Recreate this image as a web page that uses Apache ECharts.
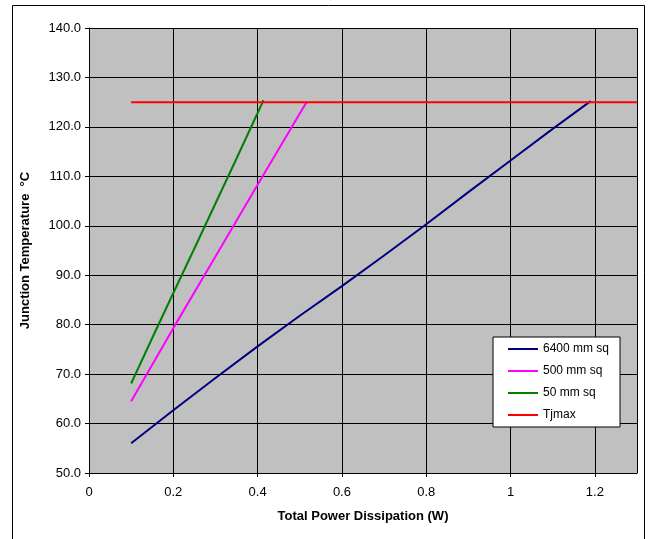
<!DOCTYPE html>
<html>
<head>
<meta charset="utf-8">
<script src="https://cdn.jsdelivr.net/npm/echarts@6/dist/echarts.min.js"></script>
<style>
html,body{margin:0;padding:0;background:#fff;}
#chart{width:649px;height:539px;}
</style>
</head>
<body>
<div id="chart"></div>
<script>
// ---- Data ----
const seriesNames = ['6400 mm sq', '500 mm sq', '50 mm sq', 'Tjmax'];

const x6400 = [0.1, 0.2, 0.3, 0.4, 0.5, 0.6, 0.7, 0.8, 0.9, 1.0, 1.1, 1.19];
const y6400 = [56.0, 62.7, 69.2, 75.6, 81.8, 87.8, 94.0, 100.3, 106.8, 113.2, 119.6, 125.2];

const x500 = [0.1, 0.2, 0.3, 0.4, 0.5, 0.516];
const y500 = [64.5, 79.3, 93.8, 108.3, 122.7, 125.0];

const x50 = [0.1, 0.15, 0.2, 0.25, 0.3, 0.35, 0.4, 0.414];
const y50 = [68.1, 77.3, 86.4, 95.4, 104.5, 113.6, 122.8, 125.4];

const xTj = [0.1, 1.3];
const yTj = [125, 125];

const xTickLabels = ['0', '0.2', '0.4', '0.6', '0.8', '1', '1.2'];
const yTickLabels = ['50.0', '60.0', '70.0', '80.0', '90.0', '100.0', '110.0', '120.0', '130.0', '140.0'];

const colors = ['#000080', '#FF00FF', '#008000', '#FF0000'];

function pairs(xs, ys) { return xs.map((x, i) => [x, ys[i]]); }

const chart = echarts.init(document.getElementById('chart'), null, {renderer: 'canvas'});
const font = '"Liberation Sans", Arial, sans-serif';

const option = {
  backgroundColor: '#ffffff',
  animation: false,
  textStyle: {fontFamily: font},
  graphic: [{
    type: 'rect',
    shape: {x: 12.5, y: 5.5, width: 632, height: 560},
    style: {fill: 'none', stroke: '#000', lineWidth: 1},
    silent: true,
    z: -1
  }],
  grid: {
    left: 89, top: 28, width: 548, height: 445,
    show: true, backgroundColor: '#C0C0C0', borderWidth: 0
  },
  legend: {
    orient: 'vertical',
    left: 493, top: 337,
    backgroundColor: '#ffffff',
    borderColor: '#000', borderWidth: 1,
    padding: [6, 11, 6, 15],
    itemWidth: 30, itemHeight: 10, itemGap: 10,
    icon: 'path://M0,4 L30,4 L30,6 L0,6 Z',
    textStyle: {fontFamily: font, fontSize: 12, color: '#000', lineHeight: 12},
    data: seriesNames.map((n, i) => ({name: n, itemStyle: {color: colors[i]}}))
  },
  xAxis: {
    type: 'value', min: 0, max: 1.3, interval: 0.2,
    name: 'Total Power Dissipation (W)',
    nameLocation: 'middle', nameGap: 37,
    nameTextStyle: {fontFamily: font, fontSize: 13, fontWeight: 'bold', color: '#000'},
    axisLine: {show: true, lineStyle: {color: '#000', width: 1}},
    axisTick: {show: true, inside: false, length: 4, lineStyle: {color: '#000'}},
    axisLabel: {
      fontFamily: font, fontSize: 13, color: '#000', margin: 13,
      showMaxLabel: false,
      formatter: function (v) {
        const idx = Math.round(v / 0.2);
        if (Math.abs(v - idx * 0.2) > 1e-6) return '';
        return xTickLabels[idx] !== undefined ? xTickLabels[idx] : '';
      }
    },
    splitLine: {show: true, lineStyle: {color: '#000', width: 1}}
  },
  yAxis: {
    type: 'value', min: 50, max: 140, interval: 10,
    name: 'Junction Temperature  °C',
    nameLocation: 'middle', nameGap: 57,
    nameTextStyle: {fontFamily: font, fontSize: 13, fontWeight: 'bold', color: '#000'},
    axisLine: {show: true, lineStyle: {color: '#000', width: 1}},
    axisTick: {show: true, inside: false, length: 4, lineStyle: {color: '#000'}},
    axisLabel: {
      fontFamily: font, fontSize: 13, color: '#000', margin: 8,
      formatter: function (v) {
        const idx = Math.round((v - 50) / 10);
        return yTickLabels[idx] !== undefined ? yTickLabels[idx] : '';
      }
    },
    splitLine: {show: true, lineStyle: {color: '#000', width: 1}}
  },
  series: [
    {name: seriesNames[0], type: 'line', data: pairs(x6400, y6400)},
    {name: seriesNames[1], type: 'line', data: pairs(x500, y500)},
    {name: seriesNames[2], type: 'line', data: pairs(x50, y50)},
    {name: seriesNames[3], type: 'line', data: pairs(xTj, yTj)}
  ].map((s, i) => Object.assign(s, {
    symbol: 'none', showSymbol: false, smooth: false,
    lineStyle: {color: colors[i], width: 2},
    itemStyle: {color: colors[i]},
    clip: true
  }))
};

chart.setOption(option);
</script>
</body>
</html>
